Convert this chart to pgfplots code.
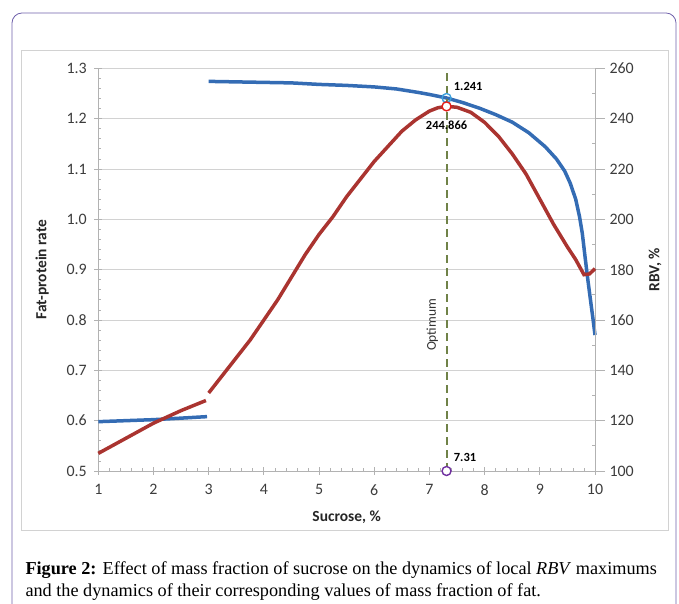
\documentclass[border=0pt]{standalone}
\usepackage{fontspec}
\setmainfont{Carlito}
\newfontfamily\capfont{Liberation Serif}
\usepackage{pgfplots}
\pgfplotsset{compat=1.18}

\definecolor{fatblue}{RGB}{52,108,180}
\definecolor{rbvred}{RGB}{170,52,48}
\definecolor{optgreen}{RGB}{112,130,72}
\definecolor{mkblue}{RGB}{60,160,220}
\definecolor{mkred}{RGB}{225,30,25}
\definecolor{mkpurple}{RGB}{112,48,160}
\definecolor{axisgray}{RGB}{178,178,178}
\definecolor{gridgray}{RGB}{210,210,210}
\definecolor{ticktext}{RGB}{60,60,60}
\definecolor{framepurple}{RGB}{110,95,170}

\pgfplotsset{
  chartbase/.style={
    at={(98.3bp,133bp)}, anchor=south west,
    scale only axis, width=496.7bp, height=402.7bp,
    xmin=1, xmax=10,
    axis line style={-, draw=axisgray, line width=0.8bp},
    tick style={draw=axisgray, line width=0.8bp},
    tick align=center,
    ticklabel style={font=\fontsize{16}{17}\selectfont, text=ticktext},
    /pgf/number format/assume math mode=true,
    label style={font=\bfseries\fontsize{15.5}{16}\selectfont, text=black!85},
    clip=false,
  },
}

\begin{document}
\begin{tikzpicture}[x=1bp,y=1bp]
\useasboundingbox (0,0) rectangle (679,604);
\draw[framepurple, line width=0.8bp, rounded corners=10bp] (12,-30) rectangle (676,591);
\draw[gridgray, line width=0.8bp] (21,74) rectangle (668,554);

% fat-protein rate, left axis
\begin{axis}[chartbase,
  ymin=0.5, ymax=1.3,
  axis x line*=bottom, axis y line*=left,
  xtick={1,2,3,4,5,6,7,8,9,10},
  ytick={0.5,0.6,0.7,0.8,0.9,1.0,1.1,1.2,1.3},
  yticklabel style={xshift=-4bp, /pgf/number format/.cd, fixed, fixed zerofill, precision=1},
  xticklabel style={yshift=-6bp},
  minor x tick num=4, minor y tick num=4,
  major tick length=8bp, minor tick length=3bp,
  every minor x tick/.append style={yshift=1.5bp},
  every minor y tick/.append style={xshift=1.5bp},
  ymajorgrids, major grid style={draw=gridgray, line width=0.8bp},
  xlabel={Sucrose, \%},
  xlabel style={at={(rel axis cs:0.5,-0.114)}, anchor=center},
  ylabel={Fat-protein rate},
  ylabel style={at={(rel axis cs:-0.113,0.5)}, anchor=center},
]
\addplot[fatblue, line width=3.5bp] coordinates {
  (1,0.598) (1.5,0.600) (2,0.602) (2.5,0.605) (2.97,0.608)
};
\addplot[fatblue, line width=3.5bp] coordinates {
  (3,1.274) (3.5,1.273) (4,1.272) (4.5,1.271) (5,1.268) (5.5,1.266)
  (6,1.263) (6.4,1.259) (6.8,1.252) (7,1.248) (7.31,1.241) (7.6,1.232)
  (7.9,1.221) (8.2,1.208) (8.5,1.193) (8.8,1.172) (9.1,1.144) (9.3,1.120)
  (9.45,1.096) (9.55,1.072) (9.65,1.040) (9.72,1.005) (9.77,0.972)
  (9.82,0.925) (9.87,0.880) (9.92,0.838) (9.96,0.805) (10,0.770)
};
\addplot[optgreen, line width=2bp, dash pattern=on 8bp off 5bp] coordinates {
  (7.31,0.5) (7.31,1.3)
};
\addplot[only marks, mark=o, mark size=4.5bp, mark options={draw=mkblue, line width=1.4bp}]
  coordinates {(7.31,1.241)};
\node[anchor=west, font=\bfseries\fontsize{12.5}{13}\selectfont] at (axis cs:7.38,1.263) {1.241};
\node[font=\bfseries\fontsize{12.5}{13}\selectfont] at (axis cs:7.31,1.187) {244.866};
\node[anchor=west, font=\bfseries\fontsize{12.5}{13}\selectfont] at (axis cs:7.38,0.526) {7.31};
\node[rotate=90, font=\fontsize{13.5}{14}\selectfont, text=black!80] at (axis cs:7.05,0.79) {Optimum};
\end{axis}

% RBV, right axis
\begin{axis}[chartbase,
  ymin=100, ymax=260,
  axis x line=none, axis y line*=right,
  ytick={100,120,140,160,180,200,220,240,260},
  yticklabel style={xshift=6bp},
  minor y tick num=1,
  major tick length=10bp, minor tick length=3bp,
  every major y tick/.append style={xshift=5bp},
  every minor y tick/.append style={xshift=-1.5bp},
  ylabel={RBV, \%},
  ylabel style={at={(rel axis cs:1.121,0.5)}, anchor=center},
]
\addplot[rbvred, line width=3.5bp] coordinates {
  (1,107) (1.5,113) (2,119) (2.5,124) (2.95,128)
};
\addplot[rbvred, line width=3.5bp] coordinates {
  (3,131) (3.25,138) (3.5,145) (3.75,152) (4,160) (4.25,168) (4.5,177)
  (4.75,186) (5,194) (5.25,201) (5.5,209) (5.75,216) (6,223) (6.25,229)
  (6.5,235) (6.75,239.5) (7,243) (7.15,244.3) (7.31,244.9) (7.5,244.5)
  (7.75,242.5) (8,238.5) (8.25,233) (8.5,226) (8.75,218) (9,208)
  (9.25,198) (9.5,189) (9.65,184) (9.8,178) (9.9,178.3) (10,180.4)
};
\addplot[only marks, mark=*, mark size=4.5bp, mark options={draw=mkred, fill=white, line width=1.4bp}]
  coordinates {(7.31,244.866)};
\addplot[only marks, mark=*, mark size=4.5bp, mark options={draw=mkpurple, fill=white, line width=1.4bp}]
  coordinates {(7.31,100)};
\end{axis}

\node[anchor=base west, font=\capfont\fontsize{18.3}{20}\selectfont] at (22,29)
  {\textbf{Figure 2:} Effect of mass fraction of sucrose on the dynamics of local \textit{RBV} maximums};
\node[anchor=base west, font=\capfont\fontsize{18.3}{20}\selectfont] at (22,7)
  {and the dynamics of their corresponding values of mass fraction of fat.};
\end{tikzpicture}
\end{document}
